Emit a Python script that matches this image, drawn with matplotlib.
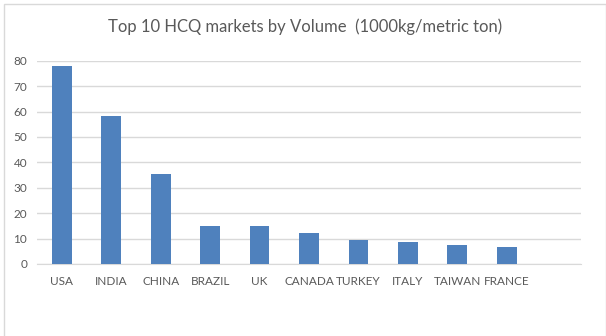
import numpy as np
import matplotlib.pyplot as plt
from matplotlib.patches import Rectangle

countries = ['USA', 'INDIA', 'CHINA', 'BRAZIL', 'UK', 'CANADA', 'TURKEY', 'ITALY', 'TAIWAN', 'FRANCE', '']
volume = [78.1, 58.1, 35.3, 15.0, 14.8, 12.2, 9.6, 8.7, 7.5, 6.6, 0]
yticks = [0, 10, 20, 30, 40, 50, 60, 70, 80]

plt.rcParams['font.family'] = ['Lato', 'DejaVu Sans']
grey = '#595959'

fig = plt.figure(figsize=(6.06, 3.36), dpi=100)
# chart border like the excel chart area
fig.patches.append(Rectangle((4 / 606, -0.1), 601.5 / 606, 1.1 - 4 / 336, transform=fig.transFigure,
                             fill=False, edgecolor='#D9D9D9', linewidth=1))

ax = fig.add_axes([37 / 606, 72 / 336, 544 / 606, 203.3 / 336])
x = np.arange(len(countries))
ax.bar(x, volume, width=0.4, color='#4F81BD', zorder=3)
ax.set_xlim(-0.5, len(countries) - 0.5)
ax.set_ylim(0, 80)
ax.set_yticks(yticks)
ax.set_xticks(x)
ax.set_xticklabels(countries)
ax.grid(axis='y', color='#D9D9D9', linewidth=1, zorder=0)
for s in ['top', 'right', 'left']:
    ax.spines[s].set_visible(False)
ax.spines['bottom'].set_color('#D9D9D9')
ax.tick_params(length=0, labelsize=8.5, labelcolor=grey)
ax.tick_params(axis='x', pad=8.5)
ax.tick_params(axis='y', pad=7)

fig.text(0.503, 1 - 27 / 336, 'Top 10 HCQ markets by Volume  (1000kg/metric ton)',
         ha='center', va='center', fontsize=12, color=grey)

fig.savefig('out.png', dpi=100)
